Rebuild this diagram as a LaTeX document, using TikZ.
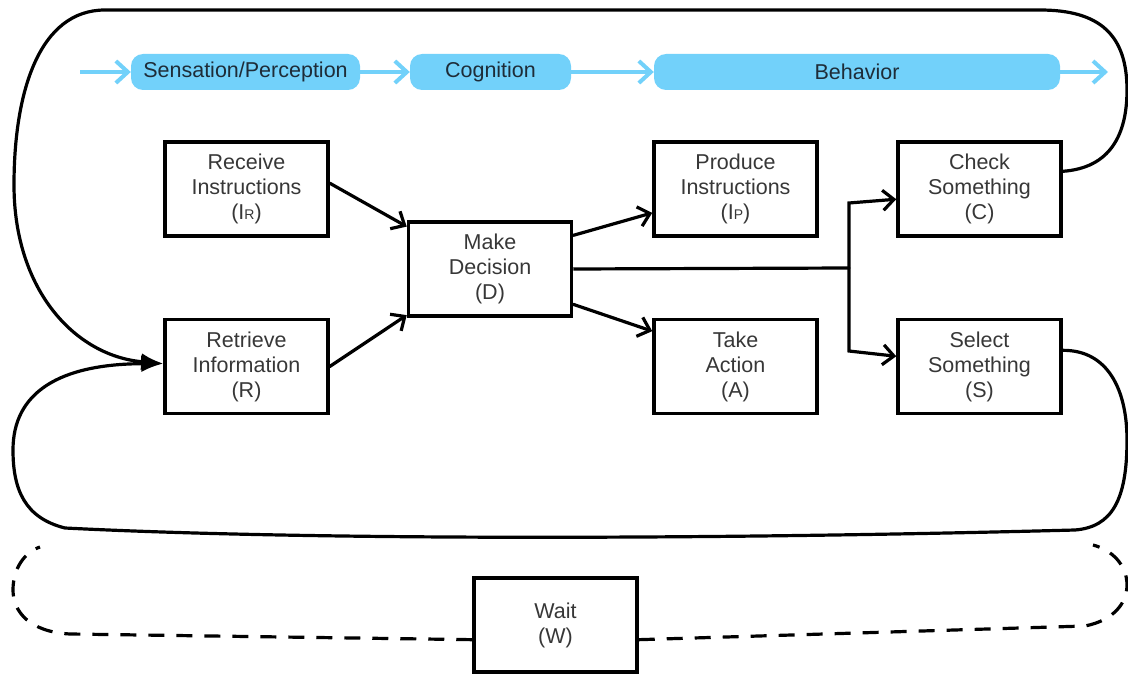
\documentclass[tikz,border=0pt]{standalone}
\usepackage{fontspec}
\setmainfont{Liberation Sans}
\usetikzlibrary{arrows.meta}
\definecolor{stageblue}{RGB}{114,209,250}
\definecolor{stagetext}{RGB}{30,44,56}
\definecolor{boxtext}{RGB}{55,55,55}
\newcommand{\smallcap}[1]{{\fontsize{14}{14}\selectfont #1}}
\begin{document}
\begin{tikzpicture}[x=1pt,y=-1pt,
  txt/.style={font=\fontsize{21.5}{25}\selectfont, align=center},
  stepbox/.style={txt, draw, line width=3.5pt, text=boxtext,
    minimum width=163pt, minimum height=94pt, inner sep=0pt},
  stage/.style={txt, fill=stageblue, text=stagetext, rounded corners=12pt,
    minimum height=36pt, inner sep=0pt},
  flow/.style={stageblue, line width=4pt,
    -{Straight Barb[length=12pt,width=22pt,line width=4pt]}},
  link/.style={line width=3.2pt, line cap=round,
    -{Straight Barb[length=11pt,width=20pt,line width=3.2pt]}},
  loop/.style={line width=3.2pt},
  waitloop/.style={line width=3.2pt, dash pattern=on 16pt off 12pt}]
\useasboundingbox (0,0) rectangle (1128,677);

% stage band
\node[stage, minimum width=229pt] (sp) at (245.5,72) {Sensation/Perception};
\node[stage, minimum width=161pt] (cg) at (490.5,72) {Cognition};
\node[stage, minimum width=406pt] (bh) at (857,72) {Behavior};
\coordinate (in) at (80,72);
\coordinate (out) at (1108,72);
\draw[flow] (in) -- (sp.west);
\draw[flow] (sp.east) -- (cg.west);
\draw[flow] (cg.east) -- (bh.west);
\draw[flow] (bh.east) -- (out);

% activity boxes
\node[stepbox] (ir) at (246.5,189) {Receive\\Instructions\\(I\smallcap{R})};
\node[stepbox] (r)  at (246.5,366.5) {Retrieve\\Information\\(R)};
\node[stepbox] (d)  at (490,269) {Make\\Decision\\(D)};
\node[stepbox] (ip) at (735.5,189) {Produce\\Instructions\\(I\smallcap{P})};
\node[stepbox] (a)  at (735.5,366.5) {Take\\Action\\(A)};
\node[stepbox] (c)  at (979.5,189) {Check\\Something\\(C)};
\node[stepbox] (s)  at (979.5,366.5) {Select\\Something\\(S)};
\node[stepbox] (w)  at (555.5,625) {Wait\\(W)};

% decision links
\draw[link] (ir.4) -- (d.153);
\draw[link] (r.east) -- (d.209);
\draw[link] (d.22) -- (ip.196);
\draw[link] (d.337) -- (a.157);
\coordinate (j) at (849,268);
\coordinate (jt) at (849,203);
\coordinate (jb) at (849,351);
\draw[line width=3.2pt] (d.east) -- (j);
\draw[link] (j) -- (jt) -- (c.187);
\draw[link] (j) -- (jb) -- (s.173);

% feedback loops back to retrieval
\draw[loop, -{Latex[length=22pt,width=17pt]}]
  (c.12) .. controls (1110,168) and (1127,135) .. (1127,90)
  .. controls (1127,35) and (1100,10) .. (1040,10)
  -- (105,10)
  .. controls (40,10) and (14,90) .. (14,185)
  .. controls (14,290) and (75,356) .. (r.178);
\draw[loop, -{Latex[length=22pt,width=17pt]}]
  (s.11) .. controls (1108,350) and (1127,390) .. (1127,440)
  .. controls (1127,500) and (1112,527) .. (1075,530)
  .. controls (700,540) and (300,540) .. (65,528)
  .. controls (25,518) and (13,490) .. (13,450)
  .. controls (13,392) and (60,364) .. (r.178);

% waiting loop
\draw[waitloop] (w.190) -- (70,634)
  .. controls (30,632) and (13,612) .. (13,590)
  .. controls (13,568) and (25,552) .. (40,547);
\draw[waitloop] (w.350) -- (1085,626)
  .. controls (1115,620) and (1127,602) .. (1127,585)
  .. controls (1127,565) and (1112,550) .. (1093,545);
\end{tikzpicture}
\end{document}
